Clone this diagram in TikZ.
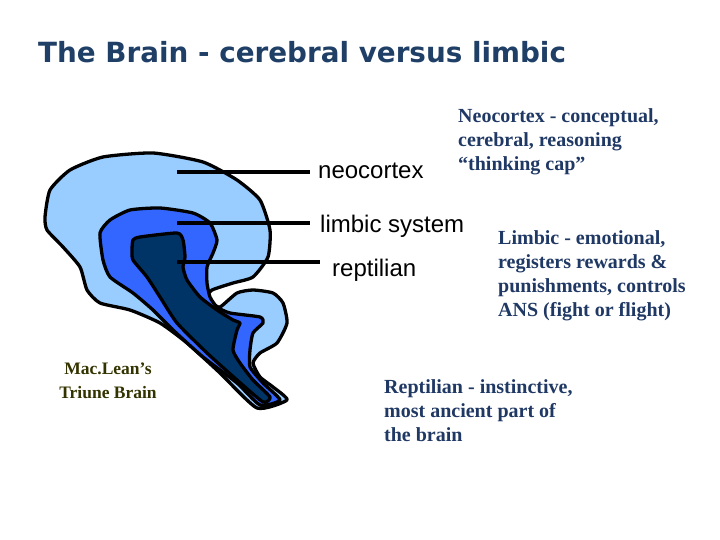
\documentclass[tikz,border=0pt]{standalone}
\usepackage{fontspec}
\setmainfont{Liberation Serif}
\newfontfamily\titlefont{DejaVu Sans}
\newfontfamily\arialfont{Liberation Sans}
\definecolor{titleblue}{HTML}{1F3F66}
\definecolor{lightb}{HTML}{99CCFF}
\definecolor{midb}{HTML}{3366FF}
\definecolor{darkb}{HTML}{003366}
\definecolor{olive}{HTML}{333300}
\definecolor{navytext}{HTML}{1F3864}
\begin{document}
\begin{tikzpicture}[x=1pt,y=-1pt,
  region/.style={draw=black,line width=3.3pt,line join=round},
  lbl/.style={font=\arialfont\fontsize{24}{26}\selectfont,anchor=west,inner sep=0},
  desc/.style={font=\bfseries\fontsize{20}{24}\selectfont,text=navytext,align=left,anchor=north west,inner sep=0},
  pointer/.style={line width=3.5pt}]
\useasboundingbox (0,0) rectangle (720,540);
\node[anchor=west,inner sep=0,text=titleblue,font=\titlefont\bfseries\fontsize{27.8}{30}\selectfont] (title) at (38,52) {The Brain - cerebral versus limbic};
% outer
\draw[region,fill=lightb] plot[smooth cycle,tension=0.35] coordinates {
(45,217)(50,190)(70,170)(103,157)(153,153)(203,162)(237,180)(260,200)(270,230)(268,257)(253,277)(233,283)(212,290)(207,297)(212,303)(220,307)(237,293)(253,290)(273,293)(283,303)(287,323)(277,343)(260,353)(253,363)(260,377)(273,387)(287,400)(257,408)(220,373)(187,343)(160,323)(130,310)(100,303)(87,290)(80,267)(63,247)(47,230)};
% middle
\draw[region,fill=midb] plot[smooth cycle,tension=0.35] coordinates {
(100,233)(110,220)(130,210)(160,208)(193,213)(210,223)(217,240)(213,253)(207,267)(207,283)(210,297)(217,307)(230,313)(260,317)(263,323)(253,333)(250,350)(250,367)(263,383)(280,400)(260,405)(237,383)(203,357)(173,330)(153,310)(133,293)(110,277)(103,260)};
% dark
\draw[region,fill=darkb] plot[smooth cycle,tension=0.35] coordinates {
(133,240)(140,237)(177,233)(183,240)(185,257)(183,267)(187,280)(200,297)(217,310)(233,320)(240,323)(237,330)(233,350)(240,363)(253,380)(270,397)(263,402)(237,380)(207,353)(177,323)(160,297)(147,277)(133,260)(132,250)};
% labels and pointers
\node[lbl] (neo) at (318,171) {neocortex};
\node[lbl] (lim) at (320,226) {limbic system};
\node[lbl] (rep) at (332,270) {reptilian};
\coordinate (p1) at (177,172);
\coordinate (p2) at (177,223);
\coordinate (p3) at (177,262);
\draw[pointer] (p1) -- (310,172) coordinate (e1);
\draw[pointer] (p2) -- (310,223) coordinate (e2);
\draw[pointer] (p3) -- (320,262) coordinate (e3);
\node[desc] (dneo) at (458,108) {Neocortex - conceptual,\\cerebral, reasoning\\“thinking cap”};
\node[desc] (dlim) at (498,230) {Limbic - emotional,\\registers rewards \&\\punishments, controls\\ANS (fight or flight)};
\node[desc] (drep) at (384,379) {Reptilian - instinctive,\\most ancient part of\\the brain};
\node[font=\bfseries\fontsize{17.5}{24}\selectfont,text=olive,align=center] (mac) at (108,381) {Mac.Lean’s\\Triune Brain};
\end{tikzpicture}
\end{document}
